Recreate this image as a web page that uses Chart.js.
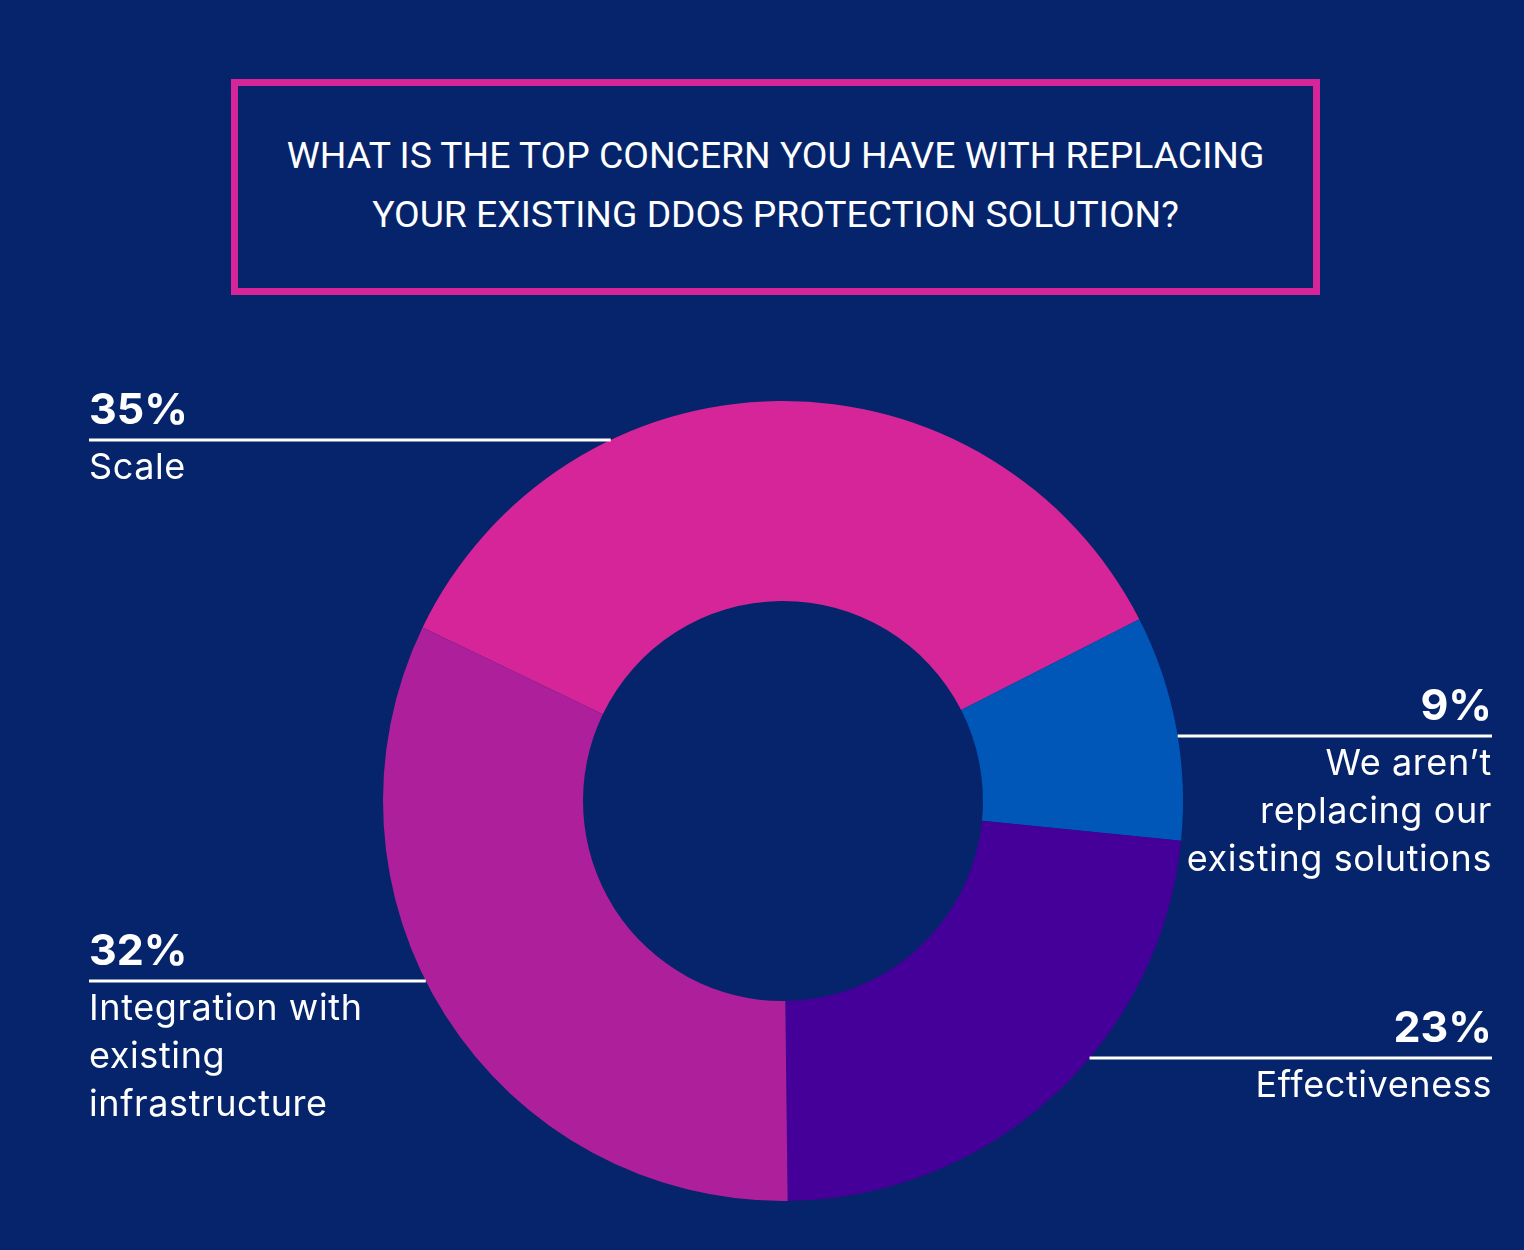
<!DOCTYPE html>
<html>
<head>
<meta charset="utf-8">
<script src="https://cdn.jsdelivr.net/npm/chart.js@4/dist/chart.umd.min.js"></script>
<style>
	html, body { margin: 0; padding: 0; background: #05246b; }
	.page { position: relative; width: 1524px; height: 1250px; overflow: hidden; }
	.title-box {
		position: absolute; left: 231px; top: 79px; width: 1075px; height: 202px;
		border: 7px solid #d62598;
		display: flex; align-items: center; justify-content: center;
	}
	.title-box h1 {
		margin: 0; padding-bottom: 4px; color: #fff; text-align: center;
		font: 400 37.3px/59px Roboto, "Noto Sans", sans-serif;
	}
	canvas { position: absolute; left: 0; top: 0; }
</style>
</head>
<body>
<div class="page">
	<div class="title-box">
		<h1>WHAT IS THE TOP CONCERN YOU HAVE WITH REPLACING<br>YOUR EXISTING DDOS PROTECTION SOLUTION?</h1>
	</div>
	<canvas id="concern-chart" width="1524" height="1250"></canvas>
</div>
<script>
// Survey answers, in clockwise order from the left edge of the top slice
const categories = ["Scale", "We aren’t replacing our existing solutions", "Effectiveness", "Integration with existing infrastructure"];
const values = [35, 9, 23, 32];
const colors = ["#d62598", "#0057b8", "#440099", "#ae1f9c"];

// Callout placement: which side of the ring, leader line y, wrapped caption
const callouts = [
	{ side: "left", lineY: 440, lines: ["Scale"] },
	{ side: "right", lineY: 736, lines: ["We aren’t", "replacing our", "existing solutions"] },
	{ side: "right", lineY: 1058, lines: ["Effectiveness"] },
	{ side: "left", lineY: 981, lines: ["Integration with", "existing", "infrastructure"] },
];

const LEFT_X = 89;
const RIGHT_X = 1492;

const calloutPlugin = {
	id: "callouts",
	afterDraw(chart) {
		const ctx = chart.ctx;
		const arcs = chart.getDatasetMeta(0).data;
		ctx.save();
		ctx.fillStyle = "#fff";
		ctx.strokeStyle = "#fff";
		ctx.lineWidth = 3;
		callouts.forEach((c, i) => {
			const arc = arcs[i];
			const dy = c.lineY - arc.y;
			const reach = Math.sqrt(Math.max(0, arc.outerRadius ** 2 - dy ** 2));
			const left = c.side === "left";
			const x0 = left ? LEFT_X : arc.x + reach;
			const x1 = left ? arc.x - reach : RIGHT_X;

			ctx.beginPath();
			ctx.moveTo(x0, c.lineY);
			ctx.lineTo(x1, c.lineY);
			ctx.stroke();

			const tx = left ? LEFT_X : RIGHT_X;
			ctx.textAlign = left ? "left" : "right";
			ctx.textBaseline = "alphabetic";
			ctx.letterSpacing = "0px";
			ctx.font = "700 43px Inter, Roboto, sans-serif";
			ctx.fillText(values[i] + "%", tx, c.lineY - 16);

			ctx.font = "400 36px Inter, Roboto, sans-serif";
			ctx.letterSpacing = "0.6px";
			c.lines.forEach((line, k) => {
				ctx.fillText(line, tx, c.lineY + 39 + k * 48);
			});
		});
		ctx.restore();
	},
};

new Chart(document.getElementById("concern-chart"), {
	type: "doughnut",
	data: {
		labels: categories,
		datasets: [
			{
				data: values,
				backgroundColor: colors,
				borderWidth: 0,
				hoverOffset: 0,
			},
		],
	},
	options: {
		responsive: false,
		animation: false,
		events: [],
		cutout: "50%",
		rotation: -64.3,
		layout: { padding: { left: 383, right: 341, top: 401, bottom: 49 } },
		plugins: { legend: { display: false }, tooltip: { enabled: false } },
	},
	plugins: [calloutPlugin],
});
</script>
</body>
</html>
